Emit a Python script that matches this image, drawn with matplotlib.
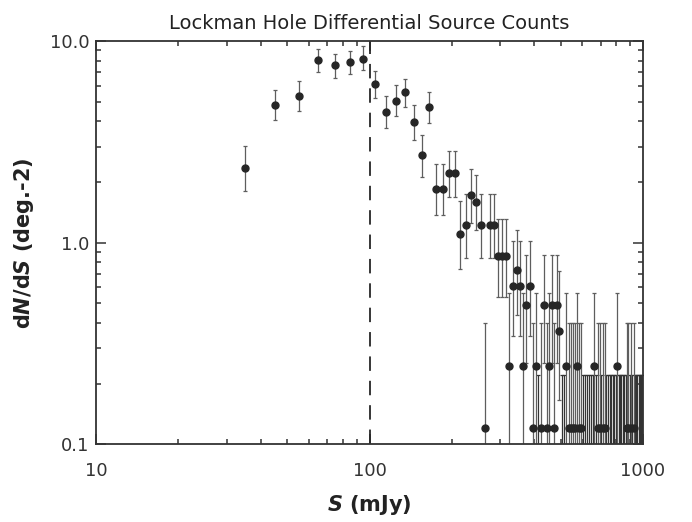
import numpy as np
import matplotlib.pyplot as plt
from matplotlib.ticker import LogLocator, NullFormatter, FixedFormatter, FixedLocator

plt.rcParams['font.family'] = 'DejaVu Sans'
plt.rcParams['mathtext.fontset'] = 'custom'
plt.rcParams['mathtext.rm'] = 'DejaVu Sans:bold'
plt.rcParams['mathtext.it'] = 'DejaVu Sans:italic:bold'

# bins with detected sources: flux centre (mJy), dN/dS, lower / upper error ends
s_det = [35, 45, 55, 65, 75, 85, 95, 105, 115, 125, 135, 145, 155, 165, 175, 185,
         195, 205, 215, 225, 235, 245, 255, 265, 275, 285, 295, 305, 315, 325,
         335, 345, 355, 365, 375, 385, 395, 405, 425, 435, 445, 455, 465, 475,
         485, 495, 525, 535, 545, 555, 565, 575, 585, 595, 665, 685, 695, 715,
         725, 805, 875, 885, 905, 925]
dnds = [2.35, 4.85, 5.33, 8.08, 7.60, 7.87, 8.20, 6.12, 4.46, 5.08, 5.58, 3.96, 2.72, 4.72, 1.85, 1.85,
        2.22, 2.22, 1.10, 1.23, 1.72, 1.60, 1.23, 0.12, 1.23, 1.23, 0.857, 0.857, 0.857, 0.244,
        0.61, 0.733, 0.61, 0.244, 0.49, 0.61, 0.12, 0.244, 0.12, 0.49, 0.12, 0.244, 0.49, 0.12,
        0.49, 0.366, 0.244, 0.12, 0.12, 0.12, 0.12, 0.244, 0.12, 0.12, 0.244, 0.12, 0.12, 0.12,
        0.12, 0.244, 0.12, 0.12, 0.12, 0.12]
err_lo = [1.80, 4.05, 4.49, 7.04, 6.60, 6.85, 7.18, 5.20, 3.69, 4.26, 4.72, 3.25, 2.11, 3.95, 1.37, 1.37,
          1.69, 1.69, 0.74, 0.84, 1.25, 1.15, 0.84, 0.02, 0.84, 0.84, 0.54, 0.54, 0.54, 0.087,
          0.345, 0.44, 0.345, 0.087, 0.253, 0.345, 0.02, 0.087, 0.02, 0.253, 0.02, 0.087, 0.253, 0.02,
          0.253, 0.166, 0.087, 0.02, 0.02, 0.02, 0.02, 0.087, 0.02, 0.02, 0.087, 0.02, 0.02, 0.02,
          0.02, 0.087, 0.02, 0.02, 0.02, 0.02]
err_hi = [3.02, 5.71, 6.33, 9.20, 8.62, 8.95, 9.45, 7.12, 5.33, 6.05, 6.53, 4.81, 3.42, 5.60, 2.47, 2.47,
          2.86, 2.86, 1.62, 1.75, 2.32, 2.18, 1.75, 0.40, 1.75, 1.75, 1.31, 1.31, 1.31, 0.56,
          1.02, 1.16, 1.02, 0.56, 0.87, 1.02, 0.40, 0.56, 0.40, 0.87, 0.40, 0.56, 0.87, 0.40,
          0.87, 0.72, 0.56, 0.40, 0.40, 0.40, 0.40, 0.56, 0.40, 0.40, 0.56, 0.40, 0.40, 0.40,
          0.40, 0.56, 0.40, 0.40, 0.40, 0.40]

# empty bins: only an upper error bar is drawn
s_zero = [415, 505, 515, 605, 615, 625, 635, 645, 655, 675, 705, 735, 745, 755, 765,
          775, 785, 795, 815, 825, 835, 845, 855, 865, 895, 915, 935, 945, 955, 965,
          975, 985, 995]
zero_hi = [0.22] * len(s_zero)

s_cut = 100  # dashed completeness line

x = np.array(s_det)
y = np.array(dnds)
yerr = [y - np.array(err_lo), np.array(err_hi) - y]

fig = plt.figure(figsize=(6.92, 5.22), dpi=100)
ax = fig.add_axes([0.139, 0.149, 0.79, 0.772])

ax.errorbar(s_zero, np.zeros(len(s_zero)), yerr=[np.zeros(len(s_zero)), zero_hi],
            fmt='none', ecolor='#333333', elinewidth=0.9, capsize=1.5, capthick=0.9)
ax.errorbar(x, y, yerr=yerr, fmt='o', color='#262626', ms=5, mec='#262626',
            ecolor='#5e5e5e', elinewidth=0.9, capsize=1.2, capthick=0.9)

ax.axvline(s_cut, color='#262626', lw=1.3, ls=(0, (8, 5.5)))

ax.set_xscale('log')
ax.set_yscale('log')
ax.set_xlim(10, 1000)
ax.set_ylim(0.1, 10)

ax.xaxis.set_major_locator(FixedLocator([10, 100, 1000]))
ax.xaxis.set_major_formatter(FixedFormatter(['10', '100', '1000']))
ax.yaxis.set_major_locator(FixedLocator([0.1, 1, 10]))
ax.yaxis.set_major_formatter(FixedFormatter(['0.1', '1.0', '10.0']))
ax.xaxis.set_minor_locator(LogLocator(base=10, subs=np.arange(2, 10)))
ax.yaxis.set_minor_locator(LogLocator(base=10, subs=np.arange(2, 10)))
ax.xaxis.set_minor_formatter(NullFormatter())
ax.yaxis.set_minor_formatter(NullFormatter())

ax.tick_params(which='both', direction='in', top=True, right=True, color='#333333', width=1.1)
ax.tick_params(which='major', length=7)
ax.tick_params(which='minor', length=3.5)
ax.tick_params(axis='x', which='major', pad=13, labelsize=13, labelcolor='#333333')
ax.tick_params(axis='y', which='major', pad=5, labelsize=13, labelcolor='#333333')
for sp in ax.spines.values():
    sp.set_linewidth(1.3)
    sp.set_color('#333333')

ax.set_title('Lockman Hole Differential Source Counts', fontsize=14, color='#222222', pad=9)
ax.set_xlabel(r'$\mathit{S}$ (mJy)', fontsize=15, fontweight='bold', color='#222222', labelpad=9)
ax.set_ylabel(r'd$\mathit{N}$/d$\mathit{S}$ (deg.-2)', fontsize=15, fontweight='bold',
              color='#222222', labelpad=10)

plt.savefig('out.png', dpi=100)
